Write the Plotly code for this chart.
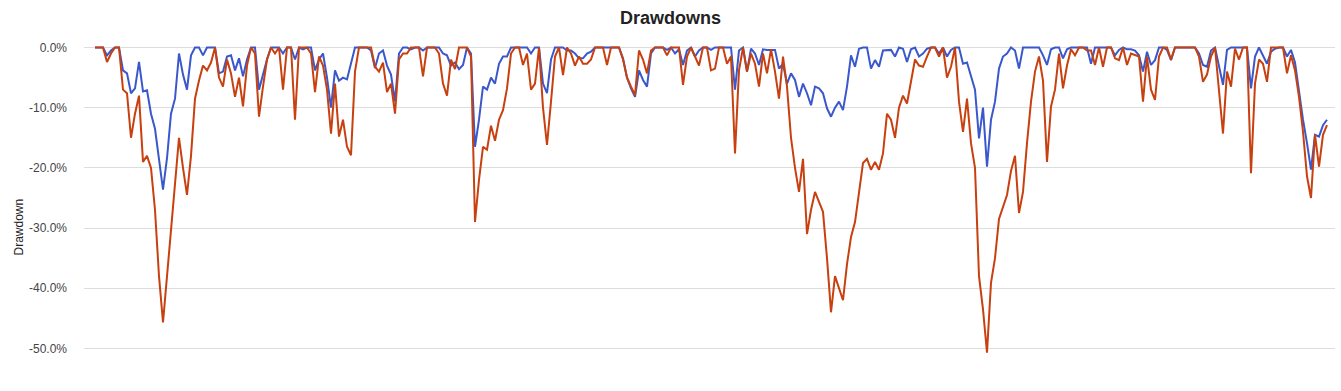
import plotly.graph_objects as go

# Drawdown values (%), one value per period
blue_dd = [
    0, 0, 0, -1.3, -0.5, 0, 0, -3.8, -4.3, -7.6,
    -6.8, -2.4, -7.3, -7.1, -11, -13.5, -19, -23.6, -18.4, -11,
    -8.5, -1, -4.5, -7, -1.3, 0, 0, -1.3, 0, 0,
    0, -4.3, -4, -1.5, -1.3, -3.8, -1.8, -4.8, -2, 0,
    0, -7, -4.3, -2, 0, 0, 0, -1, 0, 0,
    -2, 0, -0.3, 0, 0, -3.8, -2, -1, -5, -10,
    -3.8, -5.5, -5, -5.3, -2.5, 0, 0, 0, 0, -0.5,
    -3.4, -1, -0.5, -3, -4.5, -9, -1, 0, 0, -0.3,
    0, 0, -0.5, 0, 0, 0, 0, -1, -1.3, -3,
    -2.5, -3.6, -2.9, 0, -1, -16.5, -12, -6.5, -7, -5,
    -6, -2.7, -1.5, -1.5, 0, 0, 0, 0, 0, -1,
    0, 0, -6, -7.6, -2, 0, 0, 0, -0.5, -0.5,
    -1, -1.8, -1.8, -1, -0.7, 0, 0, 0, 0, 0,
    0, 0, -1.8, -5, -6.8, -8.2, -3.8, -5.4, -6.5, -1,
    0, 0, 0, -0.4, 0, -1, -0.3, -2.9, -0.5, 0,
    -1.5, -0.5, 0, 0, -0.4, 0, 0, 0, 0, 0,
    -7, -0.5, 0, -4, -0.2, -1, -2.9, -0.3, -0.4, -0.4,
    -0.4, -3.5, -2.7, -6, -4.3, -5.4, -8.2, -6, -7.6, -9.6,
    -6.5, -6.8, -7.6, -10.1, -11.5, -10, -9, -10.4, -6.5, -1.3,
    -3.2, -0.2, 0, 0, -3.5, -2.1, -3.2, -0.5, -0.4, -0.4,
    -1.5, 0, -0.2, -2.4, -0.3, 0, -1.5, -1, -0.2, 0,
    0, -1, 0, -1.5, -0.4, 0, 0, -2.7, -2.5, -4.9,
    -7, -15.1, -10, -19.8, -12, -9, -3.5, -1.5, -1, 0,
    -0.5, -3.5, 0, 0, 0, 0, 0, -1.3, -2.9, -0.3,
    0, 0, -1.8, -0.3, 0, 0, 0, 0, 0, -2.7,
    0, 0, 0, 0, 0, -1.3, -0.4, 0, -0.3, -0.3,
    -0.5, -1.3, -4, -0.7, -2.9, -2.1, 0, 0, -0.4, -2.1,
    0, 0, 0, 0, 0, 0, -1, -2.9, -3.2, -0.5,
    0, -2.9, -6.2, -0.4, 0, 0, 0, 0, 0, -6.8,
    -1.5, 0, -1.5, -2.7, -0.7, -0.2, 0, 0, -1.5, -0.4,
    -2.5, -7.5, -12, -15.9, -20.3, -14.5, -14.8, -12.9, -12,
]

red_dd = [
    0, 0, 0, -2.4, -1.0, 0, 0, -7, -7.6, -15,
    -11, -8, -19, -18, -20, -27, -38, -45.7, -38, -31,
    -23, -15, -20, -24.5, -18, -8.5, -5.5, -3, -3.8, -2.5,
    0, -5, -6.5, -2, -4.3, -8.2, -5, -9.8, -3, 0,
    -1, -11.5, -6.5, -2, 0, -1, 0, -7, 0, 0,
    -12, 0, 0, 0, -1, -7.4, -1.5, -3, -7, -14.3,
    -6, -14.8, -12, -16.5, -17.9, -4, 0, 0, 0, 0,
    -3.2, -4, -2.5, -7.4, -6, -11, -2, -1, -1, 0,
    0, 0, -4.8, 0, 0, 0, -1, -6, -8, -2,
    -3.6, 0, 0, 0, -1.5, -29, -22, -16.5, -17, -13,
    -15.5, -12, -10.4, -6.8, -1, 0, 0, -2.9, -1, -7,
    -6, 0, -10, -16.2, -9, -1.5, 0, -4.6, 0, -1,
    -3, -1.5, -2.7, -2.7, -2, 0, 0, 0, -2.9, 0,
    0, 0, -2, -5, -6.5, -7.9, -0.5, -2, -4.3, -0.5,
    0, 0, 0, -1.3, 0, 0, 0, -6.2, -1.5, 0,
    -1.5, -3, 0, 0, -3.8, -3.5, 0, 0, -2.7, -1.5,
    -17.6, -3.8, 0, -4, -1, -2.7, -6.5, -1, -4.3, -0.3,
    -4, -8.5, -1.5, -6.5, -15, -20, -24, -18.5, -31, -27,
    -24, -25.5, -27.3, -35, -44, -38, -40, -42, -36, -31.5,
    -29, -24.5, -19.2, -18.5, -20.3, -19, -20.3, -17.6, -11, -12,
    -15, -10, -8, -9.3, -5.6, -2, -3, -3.2, -1.5, 0,
    0, -1.5, 0, -5, -3.2, 0, -9, -14, -8.5, -15.9,
    -20, -38, -43.5, -50.7, -39.1, -35, -28.5, -26.5, -24.5, -20.5,
    -18, -27.5, -24, -15.9, -9, -4, -1.5, -5.5, -19, -9.8,
    -7, -1, -6.8, -3, -0.3, -1.3, 0, 0, -0.5, -0.5,
    -2.9, 0, -3.2, 0, 0, -1.8, -2.1, 0, -2.9, -1,
    -1.3, -1.5, -9, -1.5, -7, -8.7, -1.5, 0, 0, -2,
    0, 0, 0, 0, 0, 0, -1.5, -5.7, -4.5, -1.5,
    0, -7, -14.3, -4, -6.5, -0.2, -2, 0, 0, -20.9,
    -6, -2, -2.7, -5.7, 0, 0, 0, 0, -4.3, -1.3,
    -3.8, -8.2, -14, -21.4, -25, -14.5, -19.8, -14.5, -12.9,
]

y_tick_vals = [0, -10, -20, -30, -40, -50]
y_tick_text = ["0.0%", "-10.0%", "-20.0%", "-30.0%", "-40.0%", "-50.0%"]

periods = list(range(len(red_dd)))

fig = go.Figure()
fig.add_trace(go.Scatter(
    x=periods, y=[v / 100 for v in blue_dd], mode="lines",
    name="Portfolio", line=dict(color="#3a58cc", width=2)))
fig.add_trace(go.Scatter(
    x=periods, y=[v / 100 for v in red_dd], mode="lines",
    name="Benchmark", line=dict(color="#c8400f", width=2)))

fig.update_layout(
    width=1341, height=391,
    margin=dict(l=84, r=6, t=46, b=11),
    paper_bgcolor="white", plot_bgcolor="white",
    showlegend=False,
    font=dict(family="Liberation Sans, Arial, sans-serif", size=12, color="#444"),
    title=dict(text="<b>Drawdowns</b>", x=0.5, xref="container", xanchor="center",
               y=1 - 18 / 391, yref="container", yanchor="middle",
               font=dict(family="Liberation Sans, Arial, sans-serif", size=18, color="#222")),
    xaxis=dict(range=[-2.75, 310], showgrid=False, showticklabels=False,
               zeroline=False, showline=False, ticks=""),
    yaxis=dict(range=[-0.5525, 0.0025], tickvals=[v / 100 for v in y_tick_vals],
               ticktext=y_tick_text, showgrid=True, gridcolor="#dddddd", gridwidth=1,
               zeroline=False, showline=False, ticks="", ticklabelstandoff=16,
               tickfont=dict(size=12, color="#444")),
    annotations=[dict(text="Drawdown", xref="paper", yref="paper",
                      x=(18 - 84) / 1251, y=(380.5 - 228) / 334, textangle=-90,
                      showarrow=False, xanchor="center", yanchor="middle",
                      font=dict(size=12, color="#222"))],
)

fig.write_html("out.html")
